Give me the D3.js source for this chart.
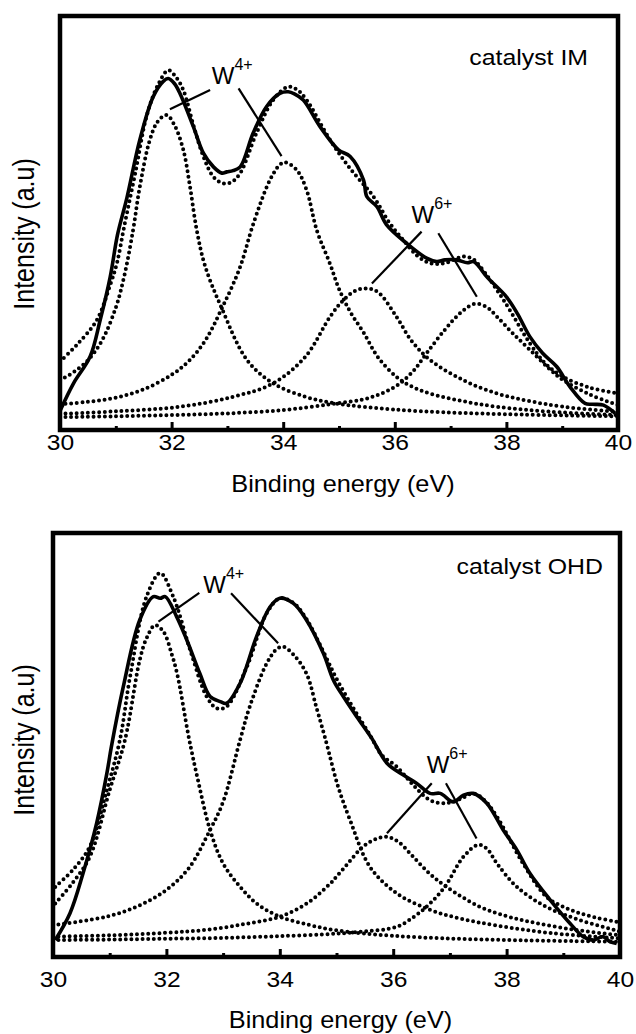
<!DOCTYPE html>
<html>
<head>
<meta charset="utf-8">
<script src="https://cdn.jsdelivr.net/npm/d3@7"></script>
<style>
  html, body { margin: 0; padding: 0; background: #fff; }
  svg { display: block; }
  text { font-family: "Liberation Sans", Arial, Helvetica, sans-serif; fill: #000; }
</style>
</head>
<body>
<svg id="chart" width="636" height="1034"></svg>
<script>
// ---------------- DATA (binding energy eV, intensity a.u. 0-100) ----------------
const xTicks = [30, 32, 34, 36, 38, 40];
const xMinorTicks = [31, 33, 35, 37, 39];
const xLabel = "Binding energy (eV)";
const yLabel = "Intensity (a.u)";

// catalyst IM
const imSolid = [[30,4.6],[30.24,11.2],[30.54,17.7],[30.72,26.5],[30.9,36.9],[31.03,47],[31.2,56],[31.43,69.9],[31.67,80.3],[31.85,84],[31.94,84.7],[32.05,83.5],[32.15,81.1],[32.39,73.1],[32.57,66.7],[32.75,63.4],[32.9,61.9],[32.99,62.2],[33.1,62.5],[33.23,63.4],[33.46,71.5],[33.7,77.9],[33.94,81.1],[34.09,81.5],[34.2,81],[34.36,79.5],[34.66,73.1],[34.99,67.5],[35.2,65.9],[35.44,60.2],[35.5,56.2],[35.68,53.8],[35.85,49.5],[36.21,45],[36.57,41.4],[36.75,40.6],[36.9,41],[37.11,41],[37.3,40.3],[37.41,40.6],[37.5,39.5],[37.65,36.9],[38.0,32.1],[38.2,28],[38.42,22.5],[38.65,18.5],[38.9,15.3],[39.14,10.4],[39.41,6.4],[39.55,6.2],[39.74,6.0],[39.95,4.0]];
const imEnvelope = [[30,16.5],[30.3,20.5],[30.66,26.5],[30.9,35],[31.02,40.2],[31.15,49],[31.35,62],[31.55,75.5],[31.75,83],[31.94,86.7],[32.08,85],[32.21,81.9],[32.4,73],[32.57,65.9],[32.75,61],[32.93,59.4],[33.08,59.8],[33.23,61.9],[33.52,71.5],[33.82,79.5],[34.09,82.7],[34.25,82],[34.42,79.5],[34.84,69.9],[35.2,63],[35.62,56.2],[35.9,50],[36.15,45.8],[36.4,42],[36.63,40.2],[36.9,40.2],[37.23,41.8],[37.4,41.2],[37.53,39.4],[37.95,31.3],[38.42,20.9],[38.7,16],[39.02,12.8],[39.5,10.2],[40,8.8]];
const imPeakA = [[30,12.0],[30.25,14.0],[30.5,16.8],[30.75,21.5],[31.0,29.5],[31.15,37],[31.31,48.2],[31.43,58.6],[31.61,69.9],[31.75,74.3],[31.91,75.9],[32.05,73.5],[32.21,67.5],[32.33,58.6],[32.45,48.2],[32.6,39.5],[32.9,29.3],[33.35,16.9],[33.82,11.25],[34.4,8.0],[34.9,6.5],[35.5,5.5],[36.5,4.5],[38,3.8],[40,3.3]];
const imPeakB = [[30,6.2],[30.5,6.8],[31,7.8],[31.5,9.8],[32,13.3],[32.3,16.5],[32.6,21.5],[32.9,29.3],[33.22,39],[33.46,49.5],[33.76,60.2],[33.94,63.9],[34.03,64.5],[34.24,62.7],[34.42,57.8],[34.6,48.2],[34.84,40],[35.0,34],[35.2,28.5],[35.44,23.5],[35.7,17.5],[36.03,12.8],[36.3,10.5],[36.63,8.8],[37.2,7.0],[37.83,5.6],[38.8,4.4],[40,3.6]];
const imPeakC = [[30,3.9],[31,4.5],[32.15,5.6],[33.1,8.0],[33.82,11.25],[34.4,17.7],[34.84,27.3],[35.08,31.3],[35.3,33.6],[35.5,34.1],[35.7,33.2],[36.03,27.3],[36.3,21.5],[36.63,16.9],[37.23,12.0],[37.83,8.8],[38.4,7.0],[39.02,5.6],[40,4.4]];
const imPeakD = [[30,3.1],[31,3.3],[32,3.6],[33,4.0],[34,4.8],[34.84,6.2],[35.44,7.4],[35.8,9.0],[36.09,11.2],[36.35,14.5],[36.57,18.5],[36.9,24.2],[37.2,28.5],[37.44,30.4],[37.65,29.6],[37.83,27.3],[38.1,23.5],[38.42,19.3],[38.79,14.5],[39.02,12.0],[39.5,8.5],[40,6.0]];

// catalyst OHD
const ohdSolid = [[30.04,4.0],[30.3,10.3],[30.53,19.7],[30.77,31.5],[30.95,43.2],[31.03,49.5],[31.24,63.6],[31.53,79.3],[31.77,84.8],[31.89,84.4],[31.98,84.8],[32.18,80.1],[32.36,74.6],[32.59,66.7],[32.77,61.3],[32.95,60.1],[33.06,59.7],[33.3,64.4],[33.59,75.4],[33.83,82.4],[34.0,84.4],[34.24,83.2],[34.47,79.3],[34.77,71.4],[34.95,65],[35.12,61.3],[35.36,56.5],[35.62,51.5],[35.89,45.6],[36.18,42.8],[36.41,40.9],[36.65,38.5],[36.83,38.5],[37.06,36.5],[37.24,38.1],[37.41,38.5],[37.65,36.2],[37.94,29.9],[38.18,25.2],[38.41,19.7],[38.77,13.4],[39.12,7.9],[39.35,4.8],[39.53,4.0],[39.7,4.8],[39.82,3.6],[39.94,3.2]];
const ohdEnvelope = [[30.04,16.5],[30.35,20.5],[30.65,26],[30.95,39.3],[31.18,51.1],[31.36,66],[31.65,84.8],[31.89,90.3],[32.12,84.8],[32.42,72.2],[32.71,61.3],[32.89,58.5],[33.06,58.9],[33.42,68.3],[33.77,80.9],[34.0,84.4],[34.24,83.3],[34.47,79.5],[34.77,71.8],[35.0,65.5],[35.3,58.5],[35.6,52],[35.8,47.5],[36.06,44.8],[36.35,40.5],[36.65,36.9],[36.94,36.2],[37.2,37.3],[37.41,38.5],[37.6,37],[37.83,33],[38.29,22],[38.7,14.2],[39.0,11.8],[39.29,10.3],[39.6,9.2],[39.94,8.3]];
const ohdPeakA = [[30.04,12.6],[30.35,17.5],[30.65,23.6],[31.0,39.3],[31.27,51.1],[31.53,69.9],[31.65,75],[31.8,78.1],[31.95,76.5],[32.1,71],[32.2,66],[32.39,52],[32.55,42],[32.77,29.9],[33.0,22],[33.3,16.5],[33.6,12.5],[34.0,9.5],[34.5,7.6],[34.94,6.4],[35.5,5.5],[36.5,4.6],[38,4.0],[40,3.6]];
const ohdPeakB = [[30,7.5],[30.95,9.5],[31.5,12],[32.0,15.8],[32.4,21],[32.77,29.9],[33.0,36.5],[33.3,51.1],[33.47,58.9],[33.77,69.1],[33.95,72.5],[34.06,73],[34.25,71],[34.47,66.7],[34.65,58.5],[34.8,51.5],[35.03,40],[35.24,32.2],[35.59,21.2],[36.06,15.0],[36.65,11.1],[37.2,9.0],[37.83,7.4],[38.8,5.6],[40,4.4]];
const ohdPeakC = [[30,4.8],[31,5.1],[32,5.7],[32.71,6.4],[33.4,7.8],[34.0,9.5],[34.5,12.8],[34.89,17.3],[35.0,18.9],[35.2,22],[35.47,26],[35.7,27.8],[35.89,28.3],[36.1,27],[36.35,23.6],[36.65,19.5],[36.94,16.5],[37.53,11.8],[38.0,9.6],[38.41,8.3],[39.2,6.4],[40,5.1]];
const ohdPeakD = [[30,4.0],[31,4.1],[32,4.3],[33,4.5],[34,4.9],[35,5.5],[35.47,6.0],[36.06,7.1],[36.4,9.8],[36.65,12.6],[36.91,16.5],[37.24,23.6],[37.5,26.4],[37.65,25.5],[37.83,22],[38.18,16.5],[38.7,11.8],[39.29,8.7],[40,6.0]];

// annotations: [label text, superscript, label x, label baseline, leader lines [[x1,y1,x2,y2],...]]
const imAnnotations = [
  ["W", "4+", 32.72, 83.3, [[31.97,77.3,32.69,81.9],[33.2,82.3,33.97,66.0]]],
  ["W", "6+", 36.3, 49.8, [[35.59,35.3,36.48,47.8],[36.78,47.4,37.47,32.1]]]
];
const ohdAnnotations = [
  ["W", "4+", 32.65, 85.6, [[31.86,78.9,32.58,85.7],[33.14,85.6,33.97,73.8]]],
  ["W", "6+", 36.59, 43.2, [[35.89,29.1,36.68,40.9],[36.93,40.9,37.47,27.9]]]
];

// ---------------- DRAWING ----------------
const svg = d3.select("#chart");
const SX = 1.13; // horizontal stretch of lettering in the reference

const panels = [
  { id: "im", name: "catalyst IM", left: 60, right: 618, top: 15, bottom: 430, frameTop: 16,
    solid: imSolid, envelope: imEnvelope, peaks: [imPeakA, imPeakB, imPeakC, imPeakD],
    ann: imAnnotations, tickPad: 4, titleY: 492, yLabelY: 234, nameX: 588, nameY: 65 },
  { id: "ohd", name: "catalyst OHD", left: 53, right: 620, top: 532, bottom: 957, frameTop: 533,
    solid: ohdSolid, envelope: ohdEnvelope, peaks: [ohdPeakA, ohdPeakB, ohdPeakC, ohdPeakD],
    ann: ohdAnnotations, tickPad: 14, titleY: 1028, yLabelY: 740, nameX: 603, nameY: 574 }
];

panels.forEach(p => {
  const x = d3.scaleLinear().domain([30, 40]).range([p.left, p.right]);
  const y = d3.scaleLinear().domain([0, 100]).range([p.bottom, p.top]);
  const g = svg.append("g");

  const clipId = "clip-" + p.id;
  svg.append("clipPath").attr("id", clipId).append("rect")
    .attr("x", p.left).attr("y", p.frameTop).attr("width", p.right - p.left).attr("height", p.bottom - p.frameTop);

  const line = d3.line().x(d => x(d[0])).y(d => y(d[1])).curve(d3.curveCatmullRom.alpha(0.5));
  const plot = g.append("g").attr("clip-path", `url(#${clipId})`);

  const dotted = sel => sel.attr("fill", "none").attr("stroke", "#000").attr("stroke-width", 4)
    .attr("stroke-linecap", "round").attr("stroke-dasharray", "0 5.6");

  // fitted components (dotted)
  plot.selectAll("path.peak").data(p.peaks).join("path")
    .attr("class", "peak").attr("d", line).call(dotted);

  // fitted envelope (dotted)
  plot.append("path").datum(p.envelope).attr("d", line).call(dotted);

  // experimental spectrum (solid)
  plot.append("path").datum(p.solid).attr("d", line)
    .attr("fill", "none").attr("stroke", "#000").attr("stroke-width", 3.6)
    .attr("stroke-linejoin", "round");

  // annotations
  p.ann.forEach(a => {
    a[4].forEach(l => {
      g.append("line").attr("x1", x(l[0])).attr("y1", y(l[1])).attr("x2", x(l[2])).attr("y2", y(l[3]))
        .attr("stroke", "#000").attr("stroke-width", 2.2);
    });
    const t = g.append("text").attr("transform", `translate(${x(a[2])},${y(a[3])})`)
      .attr("font-size", 24);
    t.append("tspan").text(a[0]);
    t.append("tspan").attr("dy", -14).attr("font-size", 16).text(a[1]);
  });

  // frame
  g.append("rect").attr("x", p.left).attr("y", p.frameTop)
    .attr("width", p.right - p.left).attr("height", p.bottom - p.frameTop)
    .attr("fill", "none").attr("stroke", "#000").attr("stroke-width", 4.5);

  // x axis (inward ticks)
  const ax = g.append("g").attr("transform", `translate(0,${p.bottom})`)
    .call(d3.axisBottom(x).tickValues(xTicks).tickFormat(d3.format("d"))
      .tickSizeInner(-8).tickSizeOuter(0).tickPadding(p.tickPad));
  ax.select(".domain").remove();
  ax.selectAll(".tick line").attr("stroke", "#000").attr("stroke-width", 3);
  ax.selectAll(".tick text").attr("font-size", 22).attr("font-family", null)
    .attr("transform", `scale(1.12,1)`);
  const axm = g.append("g").attr("transform", `translate(0,${p.bottom})`)
    .call(d3.axisBottom(x).tickValues(xMinorTicks).tickFormat("").tickSizeInner(-4).tickSizeOuter(0));
  axm.select(".domain").remove();
  axm.selectAll(".tick line").attr("stroke", "#000").attr("stroke-width", 3);

  // axis titles
  g.append("text").attr("transform", `translate(${(p.left + p.right) / 2 + 4},${p.titleY}) scale(1.1,1)`)
    .attr("text-anchor", "middle").attr("font-size", 23).text(xLabel);
  g.append("text").attr("transform", `translate(34,${p.yLabelY}) scale(1.15,1) rotate(-90)`)
    .attr("text-anchor", "middle").attr("font-size", 25).text(yLabel);

  // panel name
  g.append("text").attr("transform", `translate(${p.nameX},${p.nameY}) scale(${SX},1)`)
    .attr("text-anchor", "end").attr("font-size", 22).text(p.name);
});
</script>
</body>
</html>
